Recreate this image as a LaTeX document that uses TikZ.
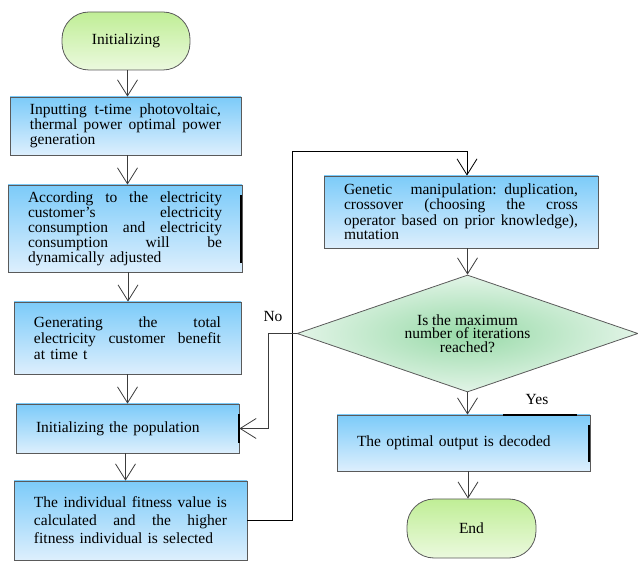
\documentclass[tikz,border=0pt]{standalone}
\usepackage{fontspec}
\setmainfont{Liberation Serif}
\usetikzlibrary{arrows.meta,shapes.geometric}
\newcommand{\jline}[2]{\makebox[#1][s]{\spaceskip=0.25em plus 10em\relax #2}}
\definecolor{boxtop}{HTML}{7CCBF9}
\definecolor{boxbot}{HTML}{DDEFFD}
\definecolor{termtop}{HTML}{C0EE96}
\definecolor{termbot}{HTML}{EBF9DE}
\definecolor{decin}{HTML}{98DAA8}
\definecolor{decout}{HTML}{E2F4E7}
\definecolor{edge}{HTML}{5A5A5A}
\definecolor{conn}{HTML}{3C3C3C}
\begin{document}
\begin{tikzpicture}[x=1pt,y=-1pt,
  txt/.style={font=\fontsize{15.5}{13.3}\selectfont},
  procbox/.style={draw=edge, line width=0.8pt, top color=boxtop, bottom color=boxbot,
    inner sep=0pt, align=left, txt},
  term/.style={draw=edge, line width=0.8pt, top color=termtop, bottom color=termbot,
    rounded corners=27pt, inner sep=0pt, txt},
  decbox/.style={draw=edge, line width=0.8pt, shape=diamond, aspect=2.9, inner sep=0pt,
    inner color=decin, outer color=decout, align=center, font=\fontsize{15.5}{13.6}\selectfont},
  arr/.style={draw=conn, line width=0.8pt, -{Straight Barb[length=16pt,width=20pt]}},
  lab/.style={font=\fontsize{15.5}{15}\selectfont, inner sep=0pt},
  heavyedge/.style={line width=2pt, black}
]
\useasboundingbox (0,0) rectangle (638,561);

\node[term, minimum width=128pt, minimum height=58pt] (init) at (126,41) {Initializing};

\node[procbox, minimum width=231pt, minimum height=58pt, text width=191pt] (b1) at (125.5,126)
  {\jline{191pt}{Inputting t-time photovoltaic,}\\\jline{191pt}{thermal power optimal power}\\generation};

\node[procbox, minimum width=234pt, minimum height=87pt, text width=194pt] (b2) at (125,228.5)
  {\jline{194pt}{According to the electricity}\\\jline{194pt}{customer's electricity}\\\jline{194pt}{consumption and electricity}\\\jline{194pt}{consumption will be}\\dynamically adjusted};

\node[procbox, minimum width=227pt, minimum height=72pt, text width=187pt,
  font=\fontsize{15.5}{16}\selectfont] (b3) at (127.5,338)
  {\jline{187pt}{Generating the total}\\\jline{187pt}{electricity customer benefit}\\at time t};

\node[procbox, minimum width=223pt, minimum height=49pt, text width=183pt] (b4) at (127.5,428.5)
  {Initializing the population};

\node[procbox, minimum width=233pt, minimum height=79pt, text width=193pt,
  font=\fontsize{15.5}{18}\selectfont] (b5) at (130.5,520.5)
  {\jline{193pt}{The individual fitness value is}\\\jline{193pt}{calculated and the higher}\\fitness individual is selected};

\node[procbox, minimum width=274pt, minimum height=72pt, text width=234pt] (gen) at (461,212)
  {\jline{234pt}{Genetic manipulation: duplication,}\\\jline{234pt}{crossover (choosing the cross}\\\jline{234pt}{operator based on prior knowledge),}\\mutation};

\node[decbox, minimum width=341pt, minimum height=117pt] (dec) at (467.5,333.5)
  {Is the maximum\\number of iterations\\reached?};

\node[procbox, minimum width=253pt, minimum height=56pt, text width=213pt] (out) at (463.5,443)
  {The optimal output is decoded};

\node[term, minimum width=129pt, minimum height=59pt] (fin) at (471.5,528.5) {End};

\node[lab] (no) at (273,317) {No};
\node[lab] (yes) at (537,400) {Yes};

% connectors
\draw[arr] ([xshift=1.5pt]init.south) -- ([xshift=1.5pt]init.south |- b1.north);
\draw[arr] ([xshift=2pt]b1.south) -- ([xshift=2pt]b1.south |- b2.north);
\draw[arr] ([xshift=3pt]b2.south) -- ([xshift=3pt]b2.south |- b3.north);
\draw[arr] (b3.south) -- (b3.south |- b4.north);
\draw[arr] ([xshift=-2pt]b4.south) -- ([xshift=-2pt]b4.south |- b5.north);

\coordinate (fbtop) at (292,151);
\draw[arr, draw=black] (b5.east) -| (fbtop) -| ([xshift=6pt]gen.north);

\draw[arr] (dec.south |- gen.south) -- (dec.north);
\draw[arr] (dec.south) -- (dec.south |- out.north);
\draw[arr] ([xshift=4.5pt]out.south) -- ([xshift=4.5pt]out.south |- fin.north);

\coordinate (nocorner) at (268,333.5);
\draw[arr] (dec.west) -- (nocorner) |- (b4.east);

% heavy edge marks
\draw[heavyedge] (241,195) -- (241,263);
\draw[heavyedge] (239,414) -- (239,443);
\draw[heavyedge] (589,425) -- (589,462);
\draw[heavyedge] (503,415) -- (577,415);
\end{tikzpicture}
\end{document}
